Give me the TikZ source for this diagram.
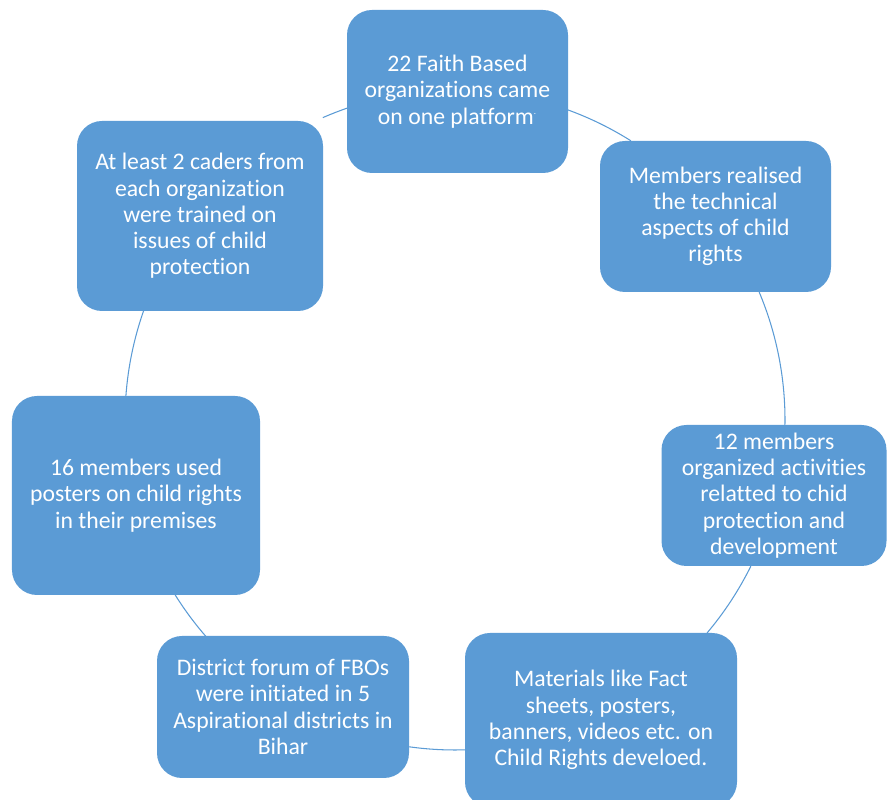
\documentclass[tikz,border=0pt]{standalone}
\usepackage{fontspec}
\setmainfont{Carlito}[Ligatures=NoCommon]
\definecolor{boxblue}{HTML}{5B9BD5}
\tikzset{
  stagebox/.style={fill=boxblue, rounded corners=0.5cm, text=white, align=center,
    font=\fontsize{13.5}{14.9}\selectfont, inner sep=0pt},
  link/.style={draw=boxblue, line width=0.6pt}
}

\begin{document}
\begin{tikzpicture}
      \useasboundingbox (0,0) rectangle (17.74,-16);
      \coordinate (hub) at (9.1,-8.4);
      % the seven stages, clockwise from the top
      \node[stagebox, minimum width=4.42cm, minimum height=3.26cm] (faith) at (9.15,-1.83)
        {22 Faith Based\\organizations came\\on one platform\textsuperscript{\tiny.}};
      \node[stagebox, minimum width=4.62cm, minimum height=3.02cm] (realised) at (14.31,-4.33)
        {Members realised\\the technical\\aspects of child\\rights};
      \node[stagebox, minimum width=4.5cm, minimum height=2.82cm] (activities) at (15.48,-9.91)
        {12 members\\organized activities\\relatted to chid\\protection and\\development};
      \node[stagebox, minimum width=5.44cm, minimum height=3.48cm] (materials) at (12.02,-14.4)
        {Materials like Fact\\sheets, posters,\\banners, videos etc. on\\Child Rights develoed.};
      \node[stagebox, minimum width=5.04cm, minimum height=2.84cm] (forum) at (5.66,-14.14)
        {District forum of FBOs\\were initiated in 5\\Aspirational districts in\\Bihar};
      \node[stagebox, minimum width=4.96cm, minimum height=3.98cm] (posters) at (2.72,-9.91)
        {16 members used\\posters on child rights\\in their premises};
      \node[stagebox, minimum width=4.92cm, minimum height=3.8cm] (cadres) at (4.0,-4.32)
        {At least 2 caders from\\each organization\\were trained on\\issues of child\\protection};
      % arcs of the cycle, from one box border to the next
      \foreach \s/\e in {70/57.8,22.8/-0.9,-26.3/-40.2,-88.3/-98,-130.9/-148,-184.2/-199.3,113.6/109.1}
      \draw[link] (hub) ++(\s:6.6) arc[start angle=\s, end angle=\e, radius=6.6];
    \end{tikzpicture}
\end{document}
